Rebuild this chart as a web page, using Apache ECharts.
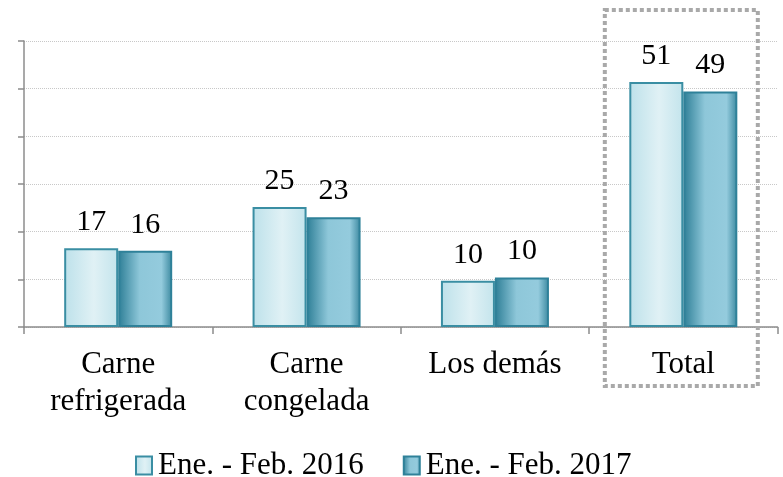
<!DOCTYPE html>
<html>
<head>
<meta charset="utf-8">
<script src="https://cdn.jsdelivr.net/npm/echarts@6/dist/echarts.min.js"></script>
<style>
html,body{margin:0;padding:0;background:#fff;}
#chart{width:783px;height:477px;}
</style>
</head>
<body>
<div id="chart"></div>
<script>
const categories = ['Carne\nrefrigerada', 'Carne\ncongelada', 'Los demás', 'Total'];
const seriesNames = ['Ene. - Feb. 2016', 'Ene. - Feb. 2017'];
const values2016 = [16.5, 25.2, 9.7, 51.4];
const values2017 = [16.0, 23.0, 10.4, 49.4];
const yMin = 0, yMax = 60, yInterval = 10;

const FONT = "'Liberation Serif', 'Times New Roman', serif";

const grad1 = new echarts.graphic.LinearGradient(0, 0, 1, 0, [
  {offset: 0, color: '#bde1ea'},
  {offset: 0.55, color: '#e0f1f5'},
  {offset: 1, color: '#c3e4ec'}
]);
const grad2 = new echarts.graphic.LinearGradient(0, 0, 1, 0, [
  {offset: 0, color: '#2d7e96'},
  {offset: 0.4, color: '#8ec7d9'},
  {offset: 0.8, color: '#94cbdd'},
  {offset: 1, color: '#3a889f'}
]);

const labelCfg = {
  show: true,
  position: 'top',
  distance: 11,
  color: '#000',
  fontFamily: FONT,
  fontSize: 30,
  formatter: p => Math.round(p.value)
};

const chart = echarts.init(document.getElementById('chart'), null, {renderer: 'canvas'});
const option = {
  animation: false,
  backgroundColor: '#fff',
  grid: {left: 24, right: 5.5, top: 41, bottom: 150, containLabel: false},
  legend: {
    data: seriesNames,
    icon: 'rect',
    left: 130,
    top: 445,
    itemWidth: 16,
    itemHeight: 18,
    itemGap: 39,
    textStyle: {fontFamily: FONT, fontSize: 31, color: '#000', padding: [0, 0, 0, 1]},
    selectedMode: false
  },
  xAxis: {
    type: 'category',
    data: categories,
    boundaryGap: true,
    axisLine: {lineStyle: {color: '#8c8c8c', width: 1.5}},
    axisTick: {show: true, length: 7, lineStyle: {color: '#8c8c8c', width: 1.5}},
    axisLabel: {
      interval: 0,
      margin: 19,
      color: '#000',
      fontFamily: FONT,
      fontSize: 31,
      lineHeight: 37
    }
  },
  yAxis: {
    type: 'value',
    min: yMin, max: yMax, interval: yInterval,
    axisLabel: {show: false},
    axisLine: {show: true, lineStyle: {color: '#8c8c8c', width: 1.5}},
    axisTick: {show: true, length: 6, lineStyle: {color: '#8c8c8c', width: 1.5}},
    splitLine: {show: true, lineStyle: {color: '#c8c8c8', type: 'dotted', width: 1}}
  },
  series: [
    {
      name: seriesNames[0], type: 'bar', data: values2016,
      barWidth: 54, barGap: '0%',
      itemStyle: {color: grad1, borderColor: '#3a8ea3', borderWidth: 2},
      label: labelCfg
    },
    {
      name: seriesNames[1], type: 'bar', data: values2017,
      barWidth: 54, barGap: '0%',
      itemStyle: {color: grad2, borderColor: '#2f8199', borderWidth: 2},
      label: labelCfg
    }
  ]
};
chart.setOption(option);

// dotted highlight box around the "Total" category
const cx = chart.convertToPixel({xAxisIndex: 0}, categories[3]);
chart.setOption({
  graphic: [{
    type: 'rect',
    shape: {x: cx - 78.5, y: 10, width: 153, height: 376},
    style: {fill: null, stroke: '#a9a9a9', lineWidth: 4, lineDash: [4, 3]},
    z: 100, silent: true
  }]
});
</script>
</body>
</html>
